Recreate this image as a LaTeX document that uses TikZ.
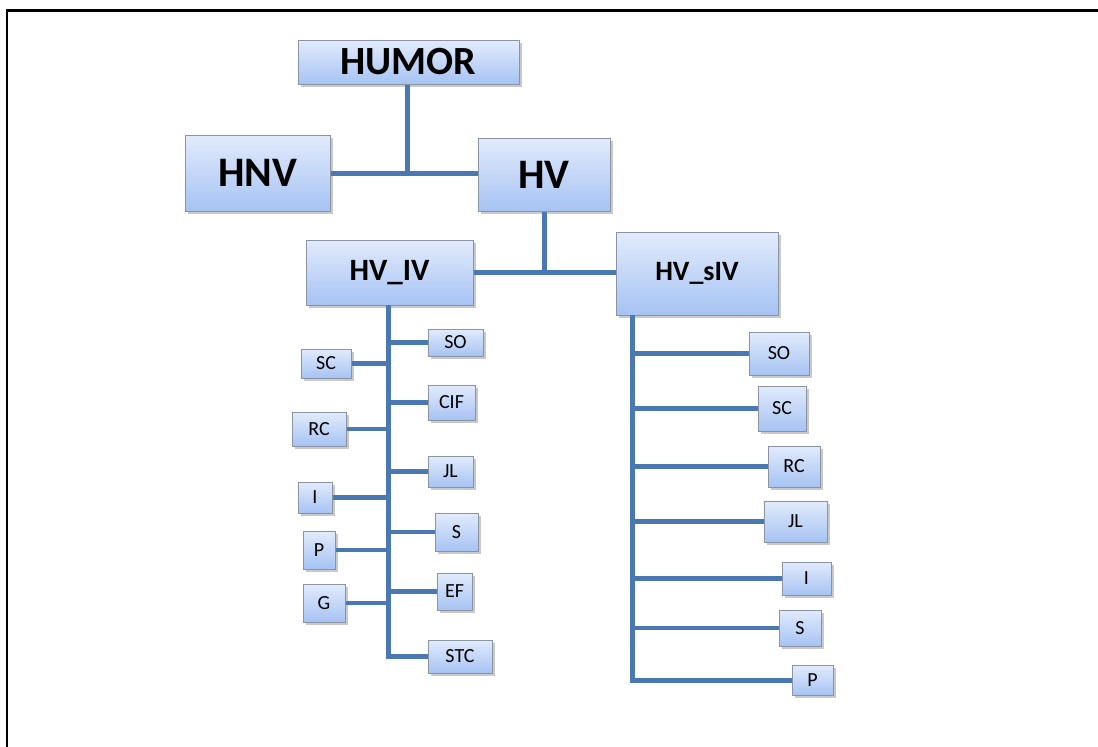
\documentclass[tikz,border=0pt]{standalone}
\usepackage{fontspec}
\setmainfont{Carlito}
\usetikzlibrary{shadows}
\definecolor{boxtop}{HTML}{E2EBFC}
\definecolor{boxbot}{HTML}{A6C3F3}
\definecolor{boxedge}{HTML}{8A94A2}
\definecolor{link}{HTML}{4A78B2}
\tikzset{
  card/.style={draw=boxedge, line width=1pt, top color=boxtop, bottom color=boxbot,
    inner sep=0pt, drop shadow={shadow xshift=2.5pt, shadow yshift=-3pt, opacity=0.35, fill=black!60}},
  bigcard/.style={card, font=\fontsize{42}{42}\selectfont\bfseries},
  midcard/.style={card, font=\fontsize{31}{31}\selectfont\bfseries},
  leaf/.style={card, font=\fontsize{20}{20}\selectfont},
  wire/.style={draw=link, line width=5pt},
  twig/.style={draw=link, line width=4.5pt},
}
\begin{document}
\begin{tikzpicture}[x=1pt, y=-1pt]
\useasboundingbox (0,0) rectangle (1098,747);
\fill[white] (0,0) rectangle (1098,747);
% outer frame (top and left edges)
\draw[line width=2.2pt, black] (7,747) -- (7,10.5) -- (1098,10.5);

% main nodes
\node[bigcard, font=\fontsize{40}{40}\selectfont\bfseries, minimum width=221pt, minimum height=44pt] (humor) at (408.5,62) {HUMOR};
\node[bigcard, minimum width=145pt, minimum height=76pt] (hnv) at (257.5,173) {HNV};
\node[bigcard, minimum width=132pt, minimum height=73pt] (hv) at (544,174.5) {HV};
\node[midcard, minimum width=167pt, minimum height=65pt] (hviv) at (389.5,272.5) {HV\_IV};
\node[midcard, font=\fontsize{28}{28}\selectfont\bfseries, minimum width=162pt, minimum height=83pt] (hvsiv) at (697,273.5) {HV\_sIV};

% leaves under HV_IV, left side
\node[leaf, minimum width=50pt, minimum height=29pt] (lsc) at (326,363.5) {SC};
\node[leaf, minimum width=54pt, minimum height=34pt] (lrc) at (319,429) {RC};
\node[leaf, minimum width=34pt, minimum height=31pt] (li) at (315,497.5) {I};
\node[leaf, minimum width=32pt, minimum height=38pt] (lp) at (319,550) {P};
\node[leaf, minimum width=42pt, minimum height=38pt] (lg) at (324,603) {G};
% leaves under HV_IV, right side
\node[leaf, minimum width=55pt, minimum height=27pt] (lso) at (455.5,342.5) {SO};
\node[leaf, minimum width=47pt, minimum height=35pt] (lcif) at (451.5,402.5) {CIF};
\node[leaf, minimum width=45pt, minimum height=31pt] (ljl) at (450.5,471.5) {JL};
\node[leaf, minimum width=43pt, minimum height=38pt] (ls) at (456.5,532) {S};
\node[leaf, minimum width=35pt, minimum height=37pt] (lef) at (454.5,591.5) {EF};
\node[leaf, minimum width=64pt, minimum height=33pt] (lstc) at (460,656.5) {STC};

% leaves under HV_sIV
\node[leaf, minimum width=60pt, minimum height=43pt] (rso) at (779,353.5) {SO};
\node[leaf, minimum width=48pt, minimum height=45pt] (rsc) at (782,408.5) {SC};
\node[leaf, minimum width=52pt, minimum height=41pt] (rrc) at (794,466.5) {RC};
\node[leaf, minimum width=63pt, minimum height=41pt] (rjl) at (795.5,521.5) {JL};
\node[leaf, minimum width=49pt, minimum height=33pt] (ri) at (806.5,578.5) {I};
\node[leaf, minimum width=42pt, minimum height=36pt] (rs) at (800,628) {S};
\node[leaf, minimum width=41pt, minimum height=30pt] (rp) at (812.5,680) {P};

% upper connectors
\draw[wire] (hnv.east) -- (hnv.east -| hv.west);
\draw[wire] (humor.south -| 407,0) -- (407,173);
\draw[wire] (hviv.east) -- (hviv.east -| hvsiv.west);
\draw[wire] (hv.south) -- (hv.south |- hviv.east);

% trunk of HV_IV
\coordinate (lt) at (388,305);
\draw[wire] (lt) -- (lt |- lstc.west) -- (lstc.west);
\foreach \n in {lsc,lrc,li,lp,lg}
  \draw[twig] (\n.east) -- (\n.east -| lt);
\foreach \n in {lso,lcif,ljl,ls,lef}
  \draw[twig] (\n.west) -- (\n.west -| lt);

% trunk of HV_sIV
\coordinate (rt) at (632,315);
\draw[wire] (rt) -- (rt |- rp.west) -- (rp.west);
\foreach \n in {rso,rsc,rrc,rjl,ri,rs}
  \draw[twig] (\n.west) -- (\n.west -| rt);
\end{tikzpicture}
\end{document}
